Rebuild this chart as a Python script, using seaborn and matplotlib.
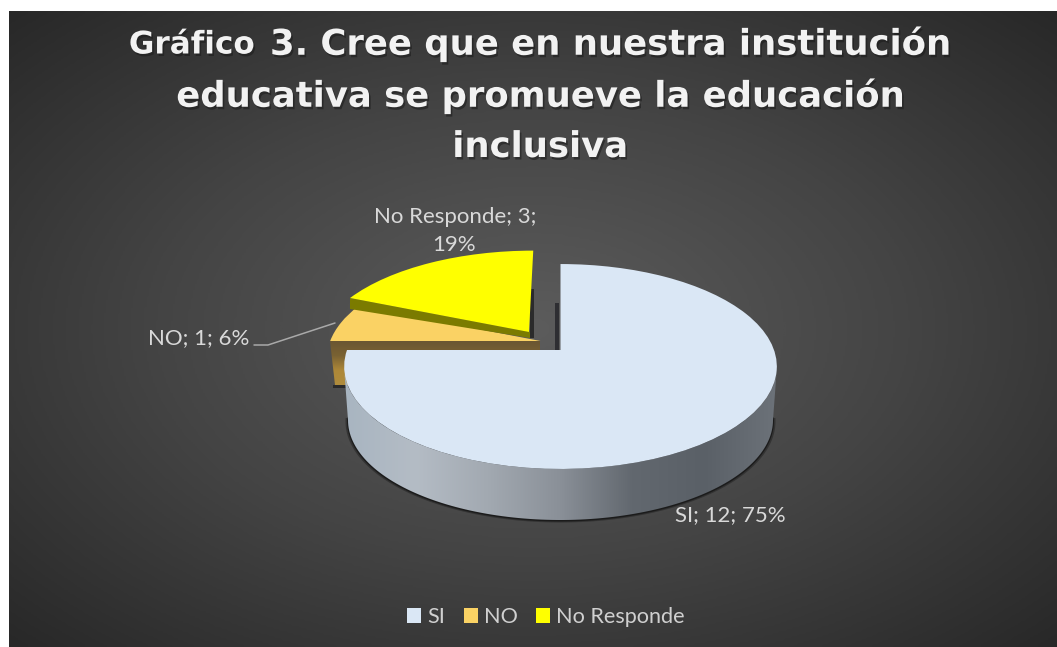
import numpy as np
import matplotlib
matplotlib.use("Agg")
import matplotlib.pyplot as plt
import matplotlib.patheffects as pe
import seaborn as sns
from matplotlib.colors import LinearSegmentedColormap
from matplotlib.patches import Polygon
from matplotlib.transforms import Transform

categories = ["SI", "NO", "No Responde"]
counts = [12, 1, 3]
percents = [75, 6, 19]
slice_colors = ["#dae7f5", "#fad264", "#ffff00"]
title_lead = "Gráfico "
title_rest = "3. Cree que en nuestra institución"
title_lines = ["educativa se promueve la educación", "inclusiva"]

sns.set_theme(style="white")
plt.rcParams["font.family"] = ["Lato", "DejaVu Sans"]
palette = sns.color_palette(slice_colors)

W, H = 1057, 647
fig = plt.figure(figsize=(W / 100, H / 100), dpi=100, facecolor="white")
ax = fig.add_axes([0, 0, 1, 1])


class Perspective(Transform):
    """Tilted-disc projection of the unit pie into pixel coordinates."""
    input_dims = output_dims = 2
    is_affine = False
    K, A, C, CX, CY = 0.161, 213.5, 99.8, 560.5, 350.0

    def transform_non_affine(self, v):
        v = np.asarray(v, dtype=float)
        w = 1 + self.K * v[:, 1]
        return np.column_stack([self.CX + self.A * v[:, 0] / w,
                                self.CY - self.C * v[:, 1] / w])


def ellipse(cx, cy, rx, ry, t0, t1, n=120):
    t = np.radians(np.linspace(t0, t1, n))
    return np.column_stack([cx + rx * np.cos(t), cy - ry * np.sin(t)])


def gradient(colors, path_pts, extent, vertical=False, z=1):
    cmap = LinearSegmentedColormap.from_list("g", colors)
    g = np.linspace(0, 1, 256)
    arr = g[:, None] if vertical else g[None, :]
    im = ax.imshow(arr, cmap=cmap, extent=extent, aspect="auto", zorder=z,
                   interpolation="bilinear", origin="upper")
    clip = Polygon(path_pts, closed=True, transform=ax.transData)
    im.set_clip_path(clip)
    return im


# background
yy, xx = np.mgrid[0:1:300j, 0:1:500j]
rad = np.sqrt(((xx - 0.5) / 0.72) ** 2 + ((yy - 0.5) / 0.72) ** 2)
bg_cmap = LinearSegmentedColormap.from_list("bg", ["#5c5c5c", "#444444", "#272727"])
ax.imshow(np.clip(rad, 0, 1), cmap=bg_cmap, vmin=0, vmax=1, extent=(9, W, H, 11),
          aspect="auto", zorder=0, interpolation="bilinear")

# pie top surfaces
wedges, _ = ax.pie(counts, colors=palette, labels=categories, labeldistance=None,
                   startangle=90, counterclock=False, radius=1,
                   wedgeprops=dict(linewidth=0))
ax.set_aspect("auto")
ax.set_xlim(0, W)
ax.set_ylim(H, 0)
ax.axis("off")

persp = Perspective()
centers = [(0, 0), (-0.0947, 0.0915), (-0.152, 0.186)]
for w, c, z in zip(wedges, centers, [6, 3, 4]):
    w.set_center(c)
    w.set_transform(persp + ax.transData)
    w.set_zorder(z)

# soft shadows on the floor and behind cut faces
ax.add_patch(Polygon(ellipse(560.5, 421.5, 215, 101, 178, 362), color="#222222", alpha=0.55, lw=0, zorder=1))
ax.add_patch(Polygon(ellipse(560.5, 421, 213.5, 100.5, 178, 362), color="#161616", alpha=0.8, lw=0, zorder=1))
ax.add_patch(Polygon([(530, 289), (534, 289), (534, 338), (530, 338)], color="#2b2b2b", lw=0, zorder=1))
ax.add_patch(Polygon([(555, 303), (559, 303), (559, 351), (555, 351)], color="#2e2e32", lw=0, zorder=1))
ax.add_patch(Polygon([(333, 385), (350, 385), (350, 388), (333, 388)], color="#2a2a2a", lw=0, zorder=1))

# side of the NO slice
no_side = [(330, 341), (540, 341), (540, 351), (350, 351), (350, 385), (335, 385)]
gradient(["#6a5632", "#7a6233", "#ad8838", "#b08c3c"], no_side, (329, 540, 385, 341), vertical=True, z=2)

# side of the SI slice
si_side = np.vstack([ellipse(560.5, 366.5, 216.5, 102.4, 180, 360),
                     ellipse(560.5, 420, 212.5, 100, 360, 180)])
gradient(["#a8b5c1", "#b4bcc5", "#a2a9b1", "#8a9098", "#62686f", "#5a6067", "#6c7279"],
         si_side, (343, 777, 520, 300), z=5)

# cut face of the yellow slice
ax.add_patch(Polygon([(350, 298), (530, 332), (530, 338), (350, 309)],
                     color="#7b7b00", lw=0, zorder=3.5))

# leader line
ax.plot([254, 268, 335], [345, 345, 323], color="#a9a9a9", lw=1.1, zorder=2.5)

# data labels
label_kw = dict(color="#d9d9d9", fontsize=16, family=["Lato", "DejaVu Sans"],
                va="center", zorder=8)
ax.text(455, 217, f"{categories[2]}; {counts[2]};", ha="center", **label_kw)
ax.text(454, 245, f"{percents[2]}%", ha="center", **label_kw)
ax.text(249, 338, f"{categories[1]}; {counts[1]}; {percents[1]}%", ha="right", **label_kw)
ax.text(730, 515, f"{categories[0]}; {counts[0]}; {percents[0]}%", ha="center", **label_kw)

# title
title_kw = dict(color="#f2f2f2", fontweight="bold", family=["DejaVu Sans"], va="center", zorder=9,
                path_effects=[pe.withSimplePatchShadow(offset=(1.2, -1.8), shadow_rgbFace="k", alpha=0.55)])
renderer = fig.canvas.get_renderer()
t1 = ax.text(0, 45, title_lead.strip(), fontsize=22.4, **title_kw)
t2 = ax.text(0, 44, title_rest, fontsize=25.5, **title_kw)
w1 = t1.get_window_extent(renderer).width
w2 = t2.get_window_extent(renderer).width
gap = 15
x0 = 540 - (w1 + gap + w2) / 2
t1.set_x(x0)
t2.set_x(x0 + w1 + gap)
ax.text(540, 96, title_lines[0], fontsize=25.5, ha="center", **title_kw)
ax.text(540, 147, title_lines[1], fontsize=25.5, ha="center", **title_kw)

# legend
leg = ax.legend(handles=list(wedges), labels=categories, ncol=3, frameon=False,
                loc="center", bbox_to_anchor=(546, 617), bbox_transform=ax.transData,
                fontsize=15.6, handlelength=0.645, handleheight=0.645,
                handletextpad=0.28, columnspacing=0.85, borderpad=0, labelcolor="#d0d0d0")
leg.set_zorder(8)

fig.savefig("out.png", dpi=100, facecolor="white")
